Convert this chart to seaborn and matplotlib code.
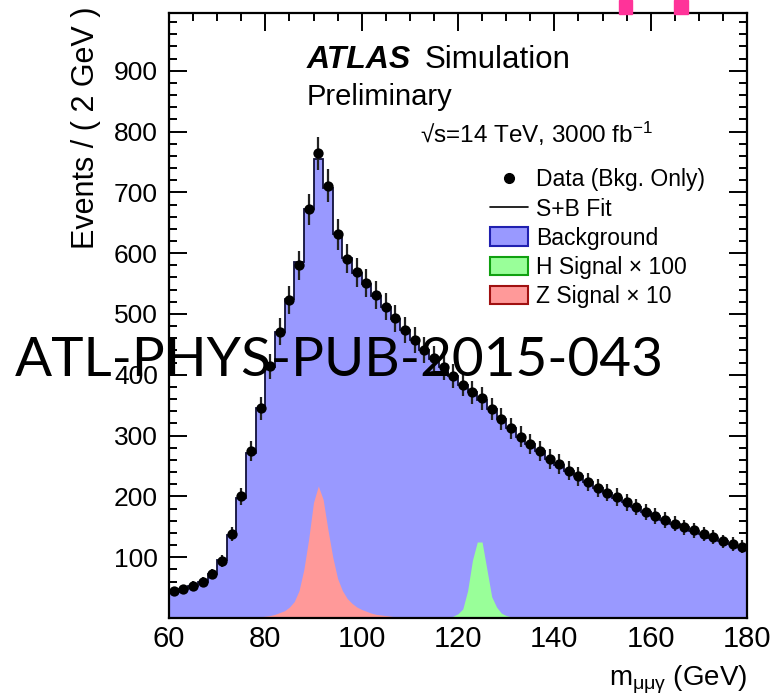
import numpy as np
import pandas as pd
import matplotlib
matplotlib.use("Agg")
import matplotlib.pyplot as plt
import seaborn as sns
from matplotlib.lines import Line2D
from matplotlib.patches import Patch, Rectangle
from matplotlib.ticker import MultipleLocator

# ---------------- data ----------------
bin_edges_lo = 60
bin_width = 2
data_counts = [45, 48, 53, 60, 72, 94, 138, 200, 274, 345,
               414, 471, 523, 580, 672, 764, 711, 631, 591, 569,
               551, 531, 512, 493, 474, 457, 441, 427, 412, 398,
               384, 371, 361, 344, 327, 312, 298, 286, 274, 262,
               253, 242, 233, 224, 214, 206, 199, 190, 183, 175,
               168, 161, 155, 149, 144, 138, 133, 126, 122, 117]
fit_counts = [42, 47, 52, 59, 73, 95, 136, 198, 272, 346,
              412, 470, 524, 585, 672, 755, 708, 632, 592, 568,
              550, 530, 511, 492, 474, 457, 441, 426, 412, 398,
              384, 371, 359, 344, 327, 312, 298, 286, 274, 262,
              252, 242, 233, 223, 214, 206, 198, 190, 183, 175,
              168, 161, 155, 149, 143, 138, 132, 127, 122, 117]
z_mass = [78, 79, 80, 81, 82, 83, 84, 85, 86, 87, 88, 89, 90, 91, 92, 93, 94,
          95, 96, 97, 98, 99, 100, 101, 102, 103, 104, 105, 106, 107, 108, 110]
z_sig10 = [1, 2, 3, 4, 6, 9, 12, 18, 27, 45, 80, 130, 190, 217, 195, 145, 100,
           65, 45, 32, 24, 18, 14, 11, 8, 6, 5, 4, 3, 2, 1, 0]
h_mass = [117, 118, 119, 120, 121, 122, 123, 124, 125, 126, 127, 128, 129, 130, 131, 132, 133]
h_sig100 = [0, 1, 3, 7, 15, 45, 95, 125, 125, 80, 35, 18, 8, 4, 2, 1, 0]

x_ticks = [60, 80, 100, 120, 140, 160, 180]
y_ticks = [100, 200, 300, 400, 500, 600, 700, 800, 900]

legend_labels = ["Data (Bkg. Only)", "S+B Fit", "Background",
                 "H Signal \u00d7 100", "Z Signal \u00d7 10"]

# ---------------- style ----------------
sns.set_theme(style="ticks")
plt.rcParams['font.family'] = ['Liberation Sans', 'DejaVu Sans']
plt.rcParams['mathtext.fontset'] = 'custom'
plt.rcParams['mathtext.rm'] = 'Liberation Sans'
plt.rcParams['mathtext.it'] = 'Liberation Sans:italic'
plt.rcParams['mathtext.bf'] = 'Liberation Sans:bold'
for key in ['text.color', 'axes.labelcolor', 'xtick.color', 'ytick.color']:
    plt.rcParams[key] = 'black'

BLUE = '#9999ff'
GREEN = '#99ff99'
RED = '#ff9999'
LINE = '#10103a'

W, H = 771, 699
fig = plt.figure(figsize=(W / 100, H / 100), dpi=100)
ax = fig.add_axes([169 / W, 81 / H, 578 / W, 605 / H])

n = len(data_counts)
centers = np.array([bin_edges_lo + bin_width * (i + 0.5) for i in range(n)])
edges = np.array([bin_edges_lo + bin_width * i for i in range(n + 1)])
df = pd.DataFrame({"mass": centers, "data": data_counts, "fit": fit_counts})

# background (filled histogram)
sns.histplot(data=df, x="mass", weights="fit", binwidth=bin_width,
             binrange=(edges[0], edges[-1]), element="step",
             fill=True, color=BLUE, alpha=1.0, linewidth=0, ax=ax, zorder=1)

# signals
ax.fill_between(z_mass, 0, z_sig10, color=RED, linewidth=0, zorder=2)
ax.fill_between(h_mass, 0, h_sig100, color=GREEN, linewidth=0, zorder=2)

# S+B fit line
ax.stairs(fit_counts, edges, color=LINE, linewidth=1.3, zorder=3)

# data with errors
ax.errorbar(df["mass"], df["data"], yerr=np.sqrt(df["data"]), fmt='none',
            ecolor='#222222', elinewidth=1.6, capsize=0, zorder=4)
sns.scatterplot(data=df, x="mass", y="data", color='black', s=55,
                edgecolor='black', linewidth=0, ax=ax, zorder=5)

ax.set_xlim(60, 180)
ax.set_ylim(0, 995)
ax.set_xticks(x_ticks)
ax.set_yticks(y_ticks)
ax.xaxis.set_minor_locator(MultipleLocator(5))
ax.yaxis.set_minor_locator(MultipleLocator(20))
ax.tick_params(which='both', direction='in', top=True, right=True, width=1.4, color='black')
ax.tick_params(which='major', length=13)
ax.tick_params(which='minor', length=6)
ax.tick_params(axis='x', which='major', labelsize=21, pad=5)
ax.tick_params(axis='y', which='major', labelsize=19, pad=8)
for s in ax.spines.values():
    s.set_linewidth(1.6)
    s.set_color('black')
    s.set_zorder(6)

ax.set_xlabel(r'm$_{\mathrm{\mu\mu\gamma}}$ (GeV)', fontsize=20, loc='right')
ax.set_ylabel('Events / ( 2 GeV )', fontsize=22, loc='top')
ax.xaxis.set_label_coords(1.0, -0.075)
ax.yaxis.set_label_coords(-0.118, 1.01)

# ATLAS label texts
fig.text(307 / W, 1 - 60 / H, 'ATLAS', fontsize=23, fontweight='bold', fontstyle='italic',
         va='center', ha='left')
fig.text(425 / W, 1 - 60 / H, 'Simulation', fontsize=22.5, va='center', ha='left')
fig.text(307 / W, 1 - 97 / H, 'Preliminary', fontsize=21, va='center', ha='left')
fig.text(420 / W, 1 - 134 / H, '\u221as=14 TeV, 3000 fb$^{\\mathrm{-1}}$',
         fontsize=17.5, va='center', ha='left')

# legend
fs = 16.5
fs_px = fs * 100 / 72
handles = [
    Line2D([], [], marker='o', linestyle='none', color='black', markersize=7),
    Line2D([], [], color='black', linewidth=1.2),
    Patch(facecolor=BLUE, edgecolor='#2020b0', linewidth=1.5),
    Patch(facecolor=GREEN, edgecolor='#10a010', linewidth=1.5),
    Patch(facecolor=RED, edgecolor='#a01010', linewidth=1.5),
]
ax.legend(handles, legend_labels, loc='upper left', bbox_to_anchor=(0.555, 0.743),
          frameon=False, fontsize=fs, handlelength=38 / fs_px, handleheight=20 / fs_px,
          labelspacing=(29 - fs_px) / fs_px, handletextpad=8 / fs_px,
          borderpad=0, borderaxespad=0)

# overlay reference text
fig.text(15 / W, 1 - 360 / H, 'ATL-PHYS-PUB-2015-043', fontsize=39.5,
         family=['Lato', 'DejaVu Sans'], va='center', ha='left',
         color='black', zorder=10)

# pink marks at top edge
for x0, w in [(619, 13), (674, 14)]:
    fig.patches.append(Rectangle((x0 / W, 1 - 14 / H), w / W, 14 / H,
                                 transform=fig.transFigure, color='#ff3399', zorder=10))

fig.savefig('out.png', dpi=100)
